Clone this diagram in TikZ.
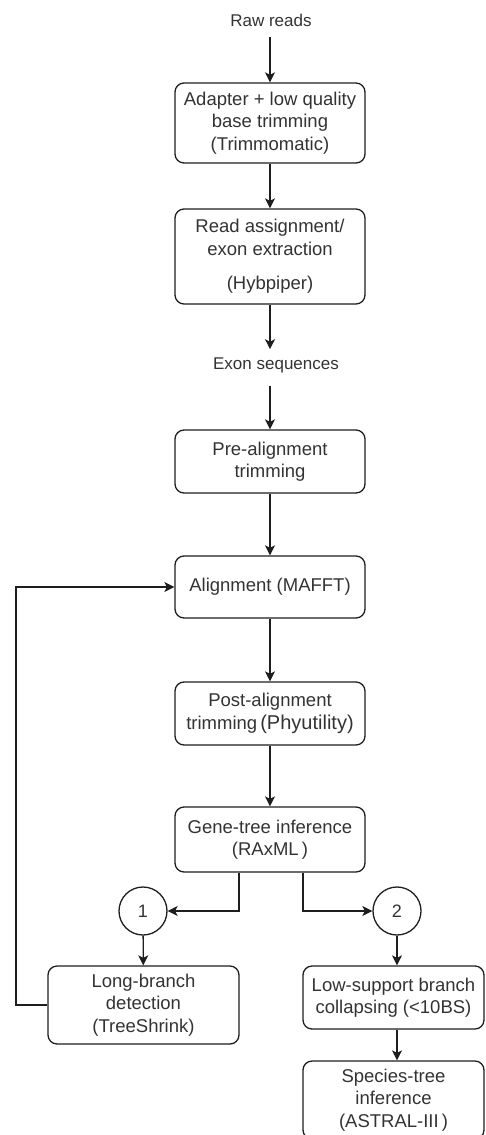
\documentclass[tikz,border=0pt]{standalone}
\usepackage{fontspec}
\setmainfont{Liberation Sans}
\usetikzlibrary{arrows.meta,positioning}
\definecolor{ink}{HTML}{1E1E1E}
\definecolor{txt}{HTML}{333333}
\tikzset{
  stepbox/.style={draw=ink, line width=1.3pt, rounded corners=9pt, fill=white,
    text=txt, align=center, inner sep=0pt,
    font=\fontsize{18.5}{22.5}\selectfont},
  tag/.style={text=txt, inner sep=0pt, font=\fontsize{17}{20}\selectfont},
  numcirc/.style={draw=ink, line width=1.3pt, circle, minimum size=48pt,
    inner sep=0pt, text=txt, font=\fontsize{18}{20}\selectfont},
  flow/.style={draw=ink, line width=1.3pt,
    -{Stealth[length=10pt,width=10pt,inset=2.5pt]}},
}
\begin{document}
\begin{tikzpicture}[x=1pt,y=-1pt]
\useasboundingbox (0,0) rectangle (485,1135);

% labels at the ends of the main column
\node[tag] (raw) at (271,20) {Raw reads};
\node[tag] (exon) at (276,365) {Exon sequences};

% main column of processing steps
\node[stepbox, minimum width=190pt, minimum height=80pt] (trim) at (270,123)
  {Adapter + low quality\\base trimming\\(Trimmomatic)};
\node[stepbox, minimum width=190pt, minimum height=95pt] (hyb) at (270,256.5)
  {Read assignment/\\exon extraction\\[12pt](Hybpiper)};
\node[stepbox, minimum width=190pt, minimum height=63pt] (pre) at (270,461.5)
  {Pre-alignment\\trimming};
\node[stepbox, minimum width=190pt, minimum height=62pt] (aln) at (270,587)
  {Alignment (MAFFT)};
\node[stepbox, minimum width=190pt, minimum height=63pt] (post) at (270,713.5)
  {Post-alignment\\trimming\,{\fontsize{20}{22.5}\selectfont(Phyutility)}};
\node[stepbox, minimum width=190pt, minimum height=65pt] (gene) at (270,839.5)
  {Gene-tree inference\\(RAxML\,)};

% branch points
\node[numcirc] (one) at (143,911) {1};
\node[numcirc] (two) at (397,911) {2};

% the two branches
\node[stepbox, minimum width=191pt, minimum height=78pt] (lbd) at (143.5,1005)
  {Long-branch\\detection\\(TreeShrink)};
\node[stepbox, minimum width=181pt, minimum height=63pt] (lsb) at (393.5,997.5)
  {Low-support branch\\collapsing (<10BS)};
\node[stepbox, minimum width=181pt, minimum height=78pt] (spt) at (393.5,1100)
  {Species-tree\\inference\\(ASTRAL-III\,)};

% anchors for the connector ends
\coordinate (rawout) at ([yshift=-11pt]raw.south -| trim.north);
\coordinate (exonin) at ([yshift=8pt]exon.north -| hyb.south);
\coordinate (exonout) at ([yshift=-13pt]exon.south -| pre.north);
\coordinate (gl) at ([xshift=-31pt]gene.south);
\coordinate (gr) at ([xshift=33pt]gene.south);
\coordinate (loop) at (16,0);

% connectors
\draw[flow] (rawout) -- (trim.north);
\draw[flow] (trim) -- (hyb);
\draw[flow] (hyb.south) -- (exonin);
\draw[flow] (exonout) -- (pre.north);
\draw[flow] (pre) -- (aln);
\draw[flow] (aln) -- (post);
\draw[flow] (post) -- (gene);
\draw[flow] (gl) |- (one.east);
\draw[flow] (gr) |- (two.west);
\draw[flow] (one) -- (lbd);
\draw[flow] (two) -- (two |- lsb.north);
\draw[flow] (lsb.south -| two) -- (two |- spt.north);
\draw[flow] (lbd.west) -| (loop |- aln.west) -- (aln.west);
\end{tikzpicture}
\end{document}
